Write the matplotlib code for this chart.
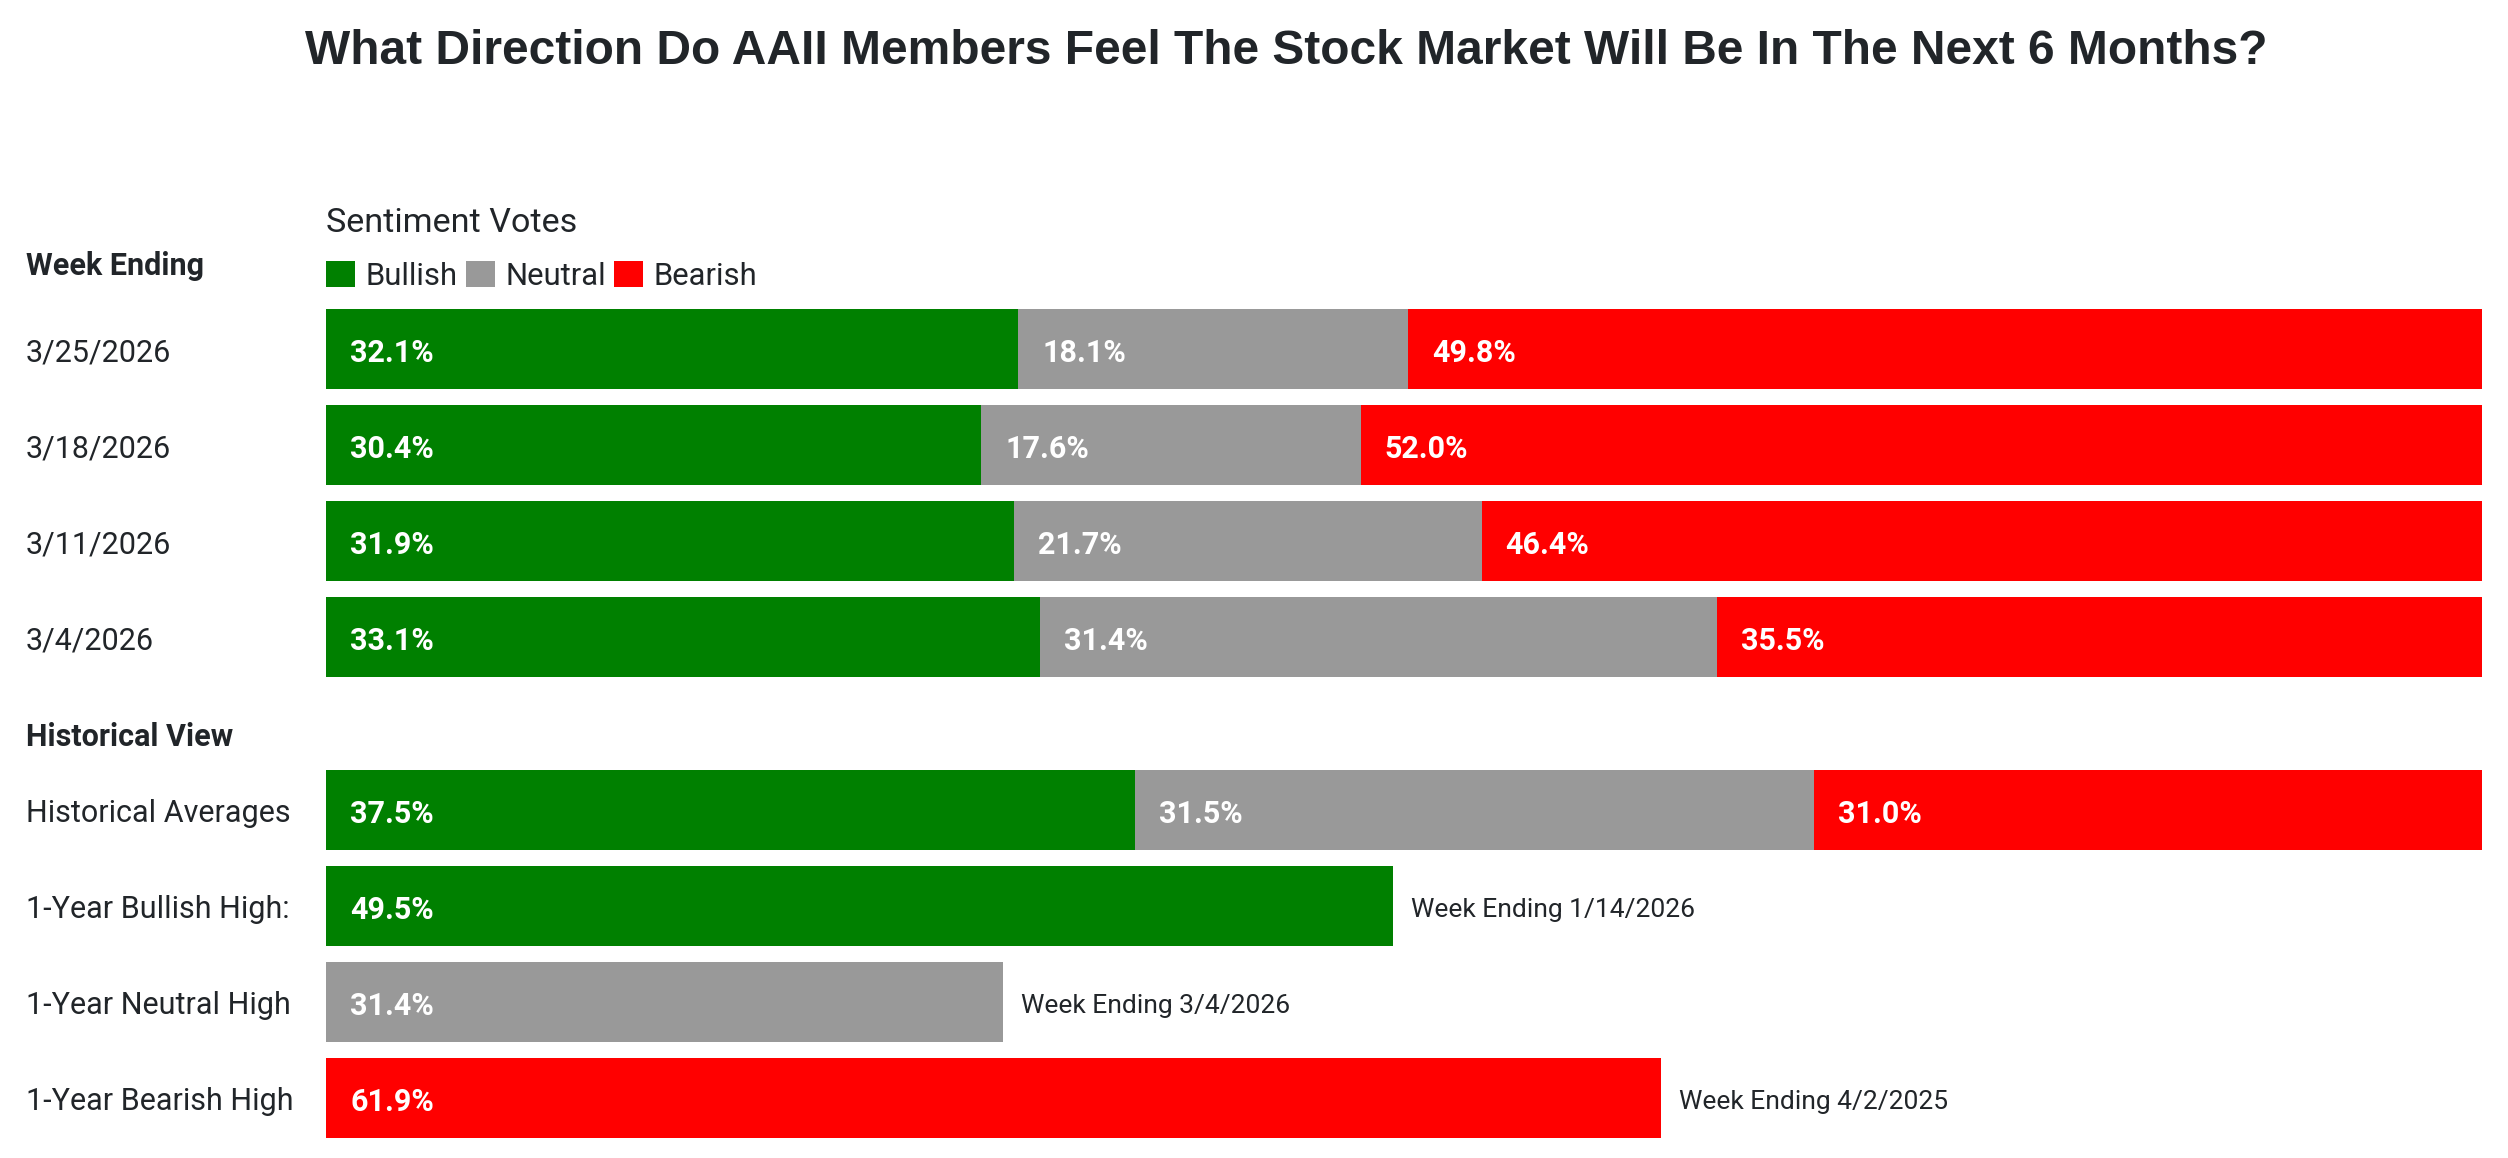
import matplotlib
matplotlib.use("Agg")
import matplotlib.pyplot as plt
from matplotlib import transforms

# ---- data ----
weeks = ["3/25/2026", "3/18/2026", "3/11/2026", "3/4/2026"]
bullish = [32.1, 30.4, 31.9, 33.1]
neutral = [18.1, 17.6, 21.7, 31.4]
bearish = [49.8, 52.0, 46.4, 35.5]

hist_label = "Historical Averages"
hist_avg = [37.5, 31.5, 31.0]  # bullish, neutral, bearish

high_labels = ["1-Year Bullish High:", "1-Year Neutral High", "1-Year Bearish High"]
high_values = [49.5, 31.4, 61.9]
high_dates = ["Week Ending 1/14/2026", "Week Ending 3/4/2026", "Week Ending 4/2/2025"]

series_names = ["Bullish", "Neutral", "Bearish"]

# ---- style ----
GREEN = "#008000"
GRAY = "#999999"
RED = "#FF0000"
TXT = "#212529"
colors = [GREEN, GRAY, RED]

plt.rcParams["font.family"] = ["Roboto", "DejaVu Sans"]

W, H = 2508, 1158
fig = plt.figure(figsize=(W / 100, H / 100), dpi=100)
fig.patch.set_facecolor("white")

bar_left_px, bar_width_px = 326, 2156
row_px = 96.0
first_center_px = 349.0
ax = fig.add_axes([bar_left_px / W, 0, bar_width_px / W, 1])
ax.set_xlim(0, 100)
ax.set_ylim((H - first_center_px) / row_px, -first_center_px / row_px)
ax.axis("off")

week_pos = [0, 1, 2, 3]
hist_pos = [4.8, 5.8, 6.8, 7.8]
bh = 80 / row_px
DY = -4  # small downward nudge of text (pixels)

# weekly stacked bars
left2 = [b for b in bullish]
left3 = [b + n for b, n in zip(bullish, neutral)]
c1 = ax.barh(week_pos, bullish, height=bh, color=GREEN, label="Bullish")
c2 = ax.barh(week_pos, neutral, left=left2, height=bh, color=GRAY, label="Neutral")
c3 = ax.barh(week_pos, bearish, left=left3, height=bh, color=RED, label="Bearish")

# historical averages stacked bar
h_lefts = [0, hist_avg[0], hist_avg[0] + hist_avg[1]]
for v, l, c in zip(hist_avg, h_lefts, colors):
    ax.barh(hist_pos[0], v, left=l, height=bh, color=c)

# 1-year highs
ax.barh(hist_pos[1:], high_values, height=bh, color=colors)

val_kw = dict(textcoords="offset pixels", xytext=(24, DY), ha="left", va="center",
              color="white", fontsize=22, fontweight="bold")

for i, y in enumerate(week_pos):
    for v, l in zip([bullish[i], neutral[i], bearish[i]], [0, left2[i], left3[i]]):
        ax.annotate(f"{v:.1f}%", xy=(l, y), **val_kw)
for v, l in zip(hist_avg, h_lefts):
    ax.annotate(f"{v:.1f}%", xy=(l, hist_pos[0]), **val_kw)
for v, y, d in zip(high_values, hist_pos[1:], high_dates):
    ax.annotate(f"{v:.1f}%", xy=(0, y), **val_kw)
    ax.annotate(d, xy=(v, y), xytext=(18, DY), textcoords="offset pixels",
                ha="left", va="center", color=TXT, fontsize=19)

# row labels
trans = transforms.blended_transform_factory(fig.transFigure, ax.transData)
lab_x = 26 / W
lab_kw = dict(xycoords=trans, textcoords="offset pixels", xytext=(0, DY),
              ha="left", va="center", fontsize=22, color=TXT)
for y, lab in zip(week_pos, weeks):
    ax.annotate(lab, xy=(lab_x, y), **lab_kw)
for y, lab in zip(hist_pos, [hist_label] + high_labels):
    ax.annotate(lab, xy=(lab_x, y), **lab_kw)

ax.annotate("Week Ending", xy=(lab_x, (262 - first_center_px) / row_px),
            fontweight="bold", **lab_kw)
ax.annotate("Historical View", xy=(lab_x, (733 - first_center_px) / row_px),
            fontweight="bold", **lab_kw)

ax.annotate("Sentiment Votes", xy=(0, (219 - first_center_px) / row_px),
            xytext=(0, DY), textcoords="offset pixels",
            ha="left", va="center", fontsize=24.6, color=TXT)

leg = ax.legend(handles=[c1, c2, c3], labels=series_names, loc="center left",
                bbox_to_anchor=(0, (276 - first_center_px) / row_px),
                bbox_transform=ax.transData, ncol=3, frameon=False,
                fontsize=22.3, handlelength=0.93, handleheight=0.93,
                handletextpad=0.36, columnspacing=0.25, borderpad=0, borderaxespad=0)
for t in leg.get_texts():
    t.set_color(TXT)

fig.text(1286 / W, 1 - 52 / H, "What Direction Do AAII Members Feel The Stock Market Will Be In The Next 6 Months?",
         ha="center", va="center", fontsize=34.5, fontweight="bold", color=TXT,
         family=["Liberation Sans", "DejaVu Sans"])

fig.savefig("out.png", dpi=100, facecolor="white")
